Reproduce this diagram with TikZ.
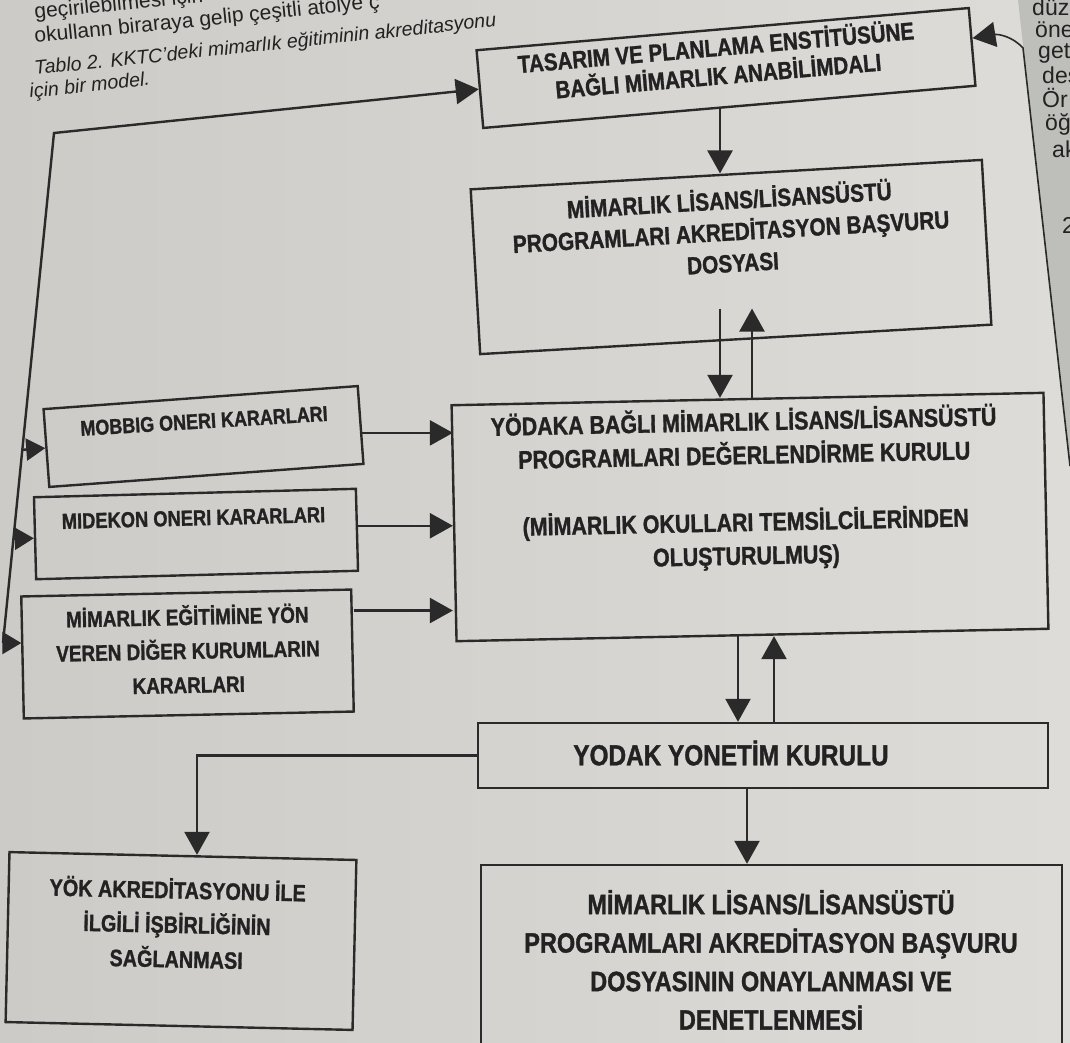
\documentclass[tikz,border=0pt]{standalone}
\usepackage{fontspec}
\setmainfont{Liberation Sans}
\newfontfamily\boxfont[FakeStretch=0.84, FakeBold=1.2, UprightFont={* Bold}]{Liberation Sans}
\usetikzlibrary{arrows.meta,calc}
\definecolor{paperL}{RGB}{204,203,199}
\definecolor{paperR}{RGB}{221,220,216}
\definecolor{paperdark}{RGB}{190,190,187}
\definecolor{ink}{RGB}{42,42,42}
\definecolor{inktext}{RGB}{34,34,34}
\begin{document}
\begin{tikzpicture}[x=1pt,y=-1pt,
  fbox/.style={draw=ink, line width=2.4pt, rectangle, inner sep=0pt},
  btxt/.style={text=inktext, align=center, inner sep=0pt},
  arr/.style={draw=ink, line width=2.4pt, -{Triangle[length=23pt,width=25pt]}},
  arrs/.style={draw=ink, line width=2.4pt, -{Triangle[length=19pt,width=22pt]}},
  bodytxt/.style={text=inktext, anchor=base west, inner sep=0pt, font=\fontsize{21}{25}\selectfont},
  captxt/.style={text=inktext, anchor=base west, inner sep=0pt, font=\itshape\fontsize{19.6}{23}\selectfont},
  striptxt/.style={text=inktext, anchor=base west, inner sep=0pt, font=\fontsize{23}{26}\selectfont},
  ]
\useasboundingbox (0,0) rectangle (1070,1042);
\clip (0,0) rectangle (1070,1042);
\shade[left color=paperL, right color=paperR] (0,0) rectangle (1070,1042);
\fill[paperdark] (1018,0) -- (1070,0) -- (1070,466) -- cycle;

% page text around the figure
\node[bodytxt, rotate=5.8] (t1) at (35,19) {geçirilebilmesi için};
\node[bodytxt, rotate=5.8] (t2) at (35,43) {okullann biraraya gelip çeşitli atölye ç};
\node[captxt, rotate=6] (cap1) at (35,75) {Tablo 2. KKTC’deki mimarlık eğitiminin akreditasyonu};
\node[captxt, rotate=6] (cap2) at (30,98) {için bir model.};
\node[striptxt] (s1) at (1032,15) {düz};
\node[striptxt] (s2) at (1035,37) {öne};
\node[striptxt] (s3) at (1038,58) {get};
\node[striptxt] (s4) at (1042,83) {des};
\node[striptxt] (s5) at (1042,107) {Ör};
\node[striptxt] (s6) at (1045,130) {öğ};
\node[striptxt] (s7) at (1052,157) {ak};
\node[striptxt] (s8) at (1062,233) {2};

% boxes
\node[fbox, minimum width=494pt, minimum height=78pt, rotate=4.9] (A) at (726,68) {};
\node[btxt, rotate=4.9, font=\boxfont\fontsize{24.5}{28.5}\selectfont] (At) at (717,60)
  {TASARIM VE PLANLAMA ENSTİTÜSÜNE\\BAĞLI MİMARLIK ANABİLİMDALI};

\node[fbox, minimum width=512pt, minimum height=165pt, rotate=3.3] (B) at (731,257) {};
\node[btxt, rotate=3.3, font=\boxfont\fontsize{24.8}{31.5}\selectfont] (Bt) at (731,230)
  {MİMARLIK LİSANS/LİSANSÜSTÜ\\PROGRAMLARI AKREDİTASYON BAŞVURU\\DOSYASI};

\node[fbox, minimum width=592pt, minimum height=236pt, rotate=1.2] (C) at (750,517) {};
\node[btxt, rotate=1.2, font=\boxfont\fontsize{25.5}{33.5}\selectfont] (Ct) at (745,489)
  {YÖDAKA BAĞLI MİMARLIK LİSANS/LİSANSÜSTÜ\\PROGRAMLARI DEĞERLENDİRME KURULU\\[33.5pt](MİMARLIK OKULLARI TEMSİLCİLERİNDEN\\OLUŞTURULMUŞ)};

\node[fbox, minimum width=315pt, minimum height=78pt, rotate=4.2] (M1) at (203.5,436.5) {};
\node[btxt, rotate=3.5, font=\boxfont\fontsize{21.4}{26}\selectfont] (M1t) at (204,421)
  {MOBBIG ONERI KARARLARI};

\node[fbox, minimum width=322pt, minimum height=82pt, rotate=1.5] (M2) at (196,534) {};
\node[btxt, rotate=1.5, font=\boxfont\fontsize{21.8}{26}\selectfont] (M2t) at (193.5,518)
  {MIDEKON ONERI KARARLARI};

\node[fbox, minimum width=330pt, minimum height=122pt, rotate=1.2] (M3) at (187.5,654) {};
\node[btxt, rotate=1.2, font=\boxfont\fontsize{22.5}{34}\selectfont] (M3t) at (188,649)
  {MİMARLIK EĞİTİMİNE YÖN\\VEREN DİĞER KURUMLARIN\\KARARLARI};

\node[fbox, minimum width=570pt, minimum height=65pt] (Y) at (763,755.5) {};
\node[btxt, font=\boxfont\fontsize{29}{32}\selectfont] (Yt) at (731,753)
  {YODAK YONETİM KURULU};

\node[fbox, minimum width=347pt, minimum height=170pt, rotate=-1.3] (K) at (181,941) {};
\node[btxt, rotate=-1.3, font=\boxfont\fontsize{23.6}{34.5}\selectfont] (Kt) at (177,923)
  {YÖK AKREDİTASYONU İLE\\İLGİLİ İŞBİRLİĞİNİN\\SAĞLANMASI};

\node[fbox, minimum width=581pt, minimum height=200pt] (F) at (771.5,965) {};
\node[btxt, font=\boxfont\fontsize{28}{38.5}\selectfont] (Ft) at (771,960)
  {MİMARLIK LİSANS/LİSANSÜSTÜ\\PROGRAMLARI AKREDİTASYON BAŞVURU\\DOSYASININ ONAYLANMASI VE\\DENETLENMESİ};

% helper coordinates
\coordinate (LT) at (54,133);
\coordinate (LB) at (3,643);
\coordinate (xa) at (720,0);
\coordinate (xb) at (752,0);
\coordinate (xc) at (738,0);
\coordinate (xd) at (774,0);
\coordinate (xe) at (747,0);
\coordinate (xk) at (197,0);
\coordinate (bin) at ([yshift=32pt]B.south);
\coordinate (m1o) at ([yshift=-8pt]M1.east);
\coordinate (m2o) at ([yshift=4pt]M2.east);
\coordinate (m3o) at ([yshift=40pt]M3.east);
\coordinate (RB) at (1070,466);
\coordinate (RM) at (1023,48);

% left loop
\draw[arr] (LB) -- (LT) -- (A.west);
\draw[arrs] (intersection of LT--LB and M1.west--M1.east) -- (M1.west);
\draw[arrs] (intersection of LT--LB and M2.west--M2.east) -- (M2.west);
\draw[arrs] (LB) -- (LB -| M3.west);

% left boxes to C
\draw[arr] (m1o) -- (m1o -| C.west);
\draw[arr] (m2o) -- (m2o -| C.west);
\draw[arr] (m3o) -- (m3o -| C.west);

% vertical connectors
\draw[arr] (A.south -| xa) -- (B.north -| xa);
\draw[arr] (bin -| xa) -- (C.north -| xa);
\draw[arr] (C.north -| xb) -- (bin -| xb);
\draw[arr] (C.south -| xc) -- (Y.north -| xc);
\draw[arr] (Y.north -| xd) -- (C.south -| xd);
\draw[arr] (Y.south -| xe) -- (F.north -| xe);
\draw[arr] (Y.west) -| (K.north -| xk);

% right feedback arrow
\draw[arr, line width=1.6pt] (RB) -- (RM) .. controls (1012,36) and (998,34) .. (A.2);
\end{tikzpicture}
\end{document}
